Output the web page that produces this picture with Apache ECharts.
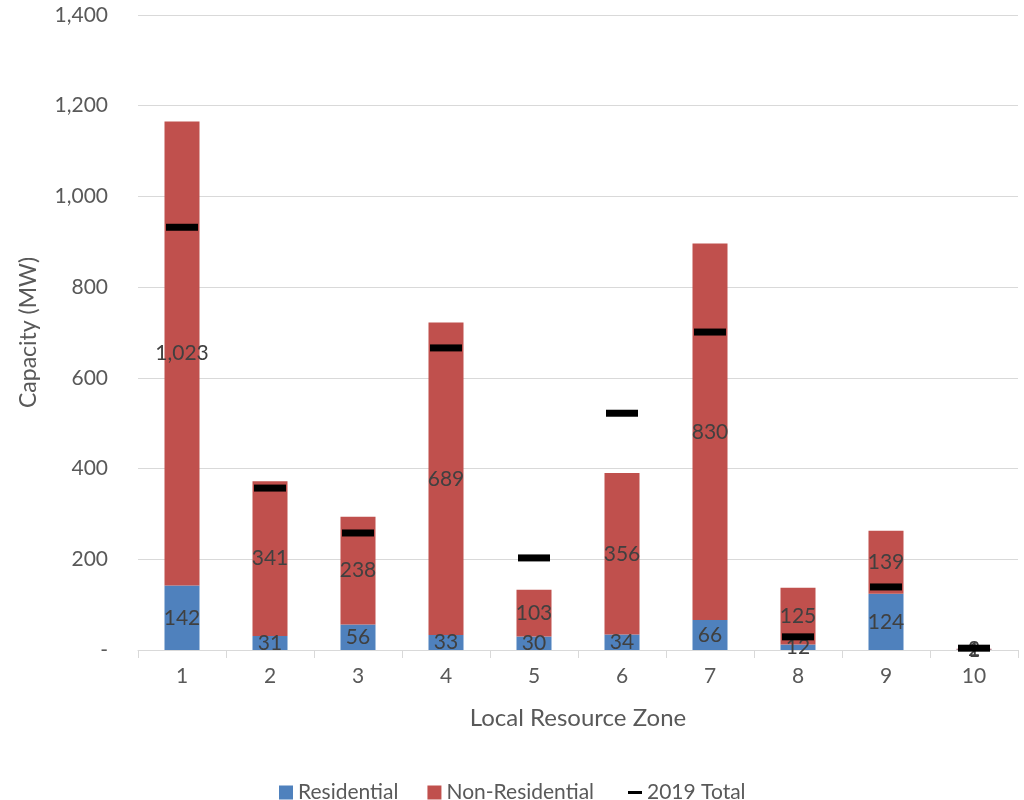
<!DOCTYPE html>
<html>
<head>
<meta charset="utf-8">
<script src="https://cdn.jsdelivr.net/npm/echarts@6/dist/echarts.min.js"></script>
<style>
  html, body { margin: 0; padding: 0; background: #fff; }
  #chart { width: 1024px; height: 800px; }
</style>
</head>
<body>
<div id="chart"></div>
<script>
// Local Resource Zones on the category axis
const zones = ['1', '2', '3', '4', '5', '6', '7', '8', '9', '10'];
// Capacity (MW) by customer class
const residential = [142, 31, 56, 33, 30, 34, 66, 12, 124, 1];
const nonResidential = [1023, 341, 238, 689, 103, 356, 830, 125, 139, 2];
// 2019 total capacity (MW) per zone
const total2019 = [932, 357, 258, 666, 203, 522, 701, 29, 139, 4];

const FONT = 'Lato, "Open Sans", sans-serif';
const GREY = '#595959';
const fmt = v => v === 0 ? '-' : v.toLocaleString('en-US');

const chart = echarts.init(document.getElementById('chart'));

const barLabel = {
  show: true,
  position: 'inside',
  color: '#404040',
  fontSize: 21,
  fontFamily: FONT,
  formatter: p => fmt(p.value)
};

chart.setOption({
  animation: false,
  textStyle: { fontFamily: FONT },
  grid: { left: 138, right: 6, top: 15, bottom: 150, containLabel: false },
  legend: [
    {
      data: ['Residential', 'Non-Residential'],
      left: 274,
      top: 777,
      itemWidth: 14,
      itemHeight: 14,
      itemGap: 29,
      icon: 'rect',
      textStyle: { color: GREY, fontSize: 21, fontFamily: FONT }
    },
    {
      data: ['2019 Total'],
      left: 623,
      top: 777,
      itemWidth: 14,
      itemHeight: 3,
      icon: 'rect',
      textStyle: { color: GREY, fontSize: 21, fontFamily: FONT }
    }
  ],
  xAxis: {
    type: 'category',
    data: zones,
    name: 'Local Resource Zone',
    nameLocation: 'middle',
    nameGap: 56,
    nameTextStyle: { color: GREY, fontSize: 24, fontFamily: FONT },
    axisLine: { lineStyle: { color: '#d9d9d9', width: 1 } },
    axisTick: { show: true, length: 8, lineStyle: { color: '#d9d9d9' } },
    axisLabel: { color: GREY, fontSize: 21, margin: 16, fontFamily: FONT }
  },
  yAxis: {
    type: 'value',
    min: 0,
    max: 1400,
    interval: 200,
    name: 'Capacity (MW)',
    nameLocation: 'middle',
    nameGap: 98,
    nameTextStyle: { color: GREY, fontSize: 23, fontFamily: FONT },
    axisLine: { show: false },
    axisTick: { show: false },
    axisLabel: { color: GREY, fontSize: 21, margin: 30, fontFamily: FONT, formatter: fmt },
    splitLine: { lineStyle: { color: '#d9d9d9', width: 1 } }
  },
  series: [
    {
      name: 'Residential',
      type: 'bar',
      stack: 'cap',
      barWidth: 35,
      data: residential,
      itemStyle: { color: '#4f81bd' },
      label: barLabel
    },
    {
      name: 'Non-Residential',
      type: 'bar',
      stack: 'cap',
      barWidth: 35,
      data: nonResidential,
      itemStyle: { color: '#c0504d' },
      label: barLabel
    },
    {
      name: '2019 Total',
      type: 'scatter',
      z: 5,
      symbol: 'rect',
      symbolSize: [32, 7],
      data: total2019,
      itemStyle: { color: '#000000', opacity: 1 }
    }
  ]
});
</script>
</body>
</html>
